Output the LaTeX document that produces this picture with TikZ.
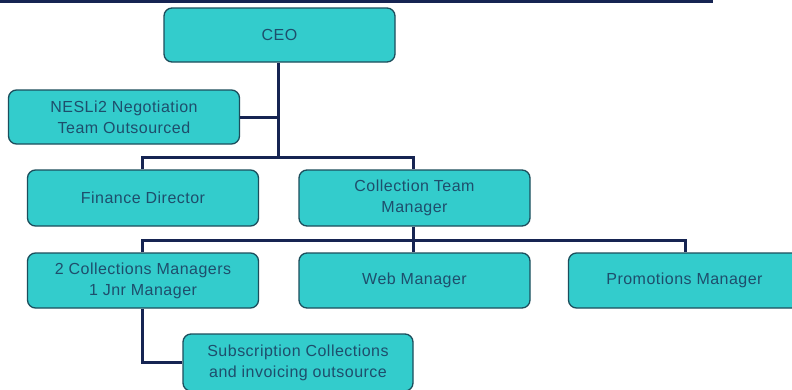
\documentclass[tikz,border=0pt]{standalone}
\usepackage{fontspec}
\setmainfont[LetterSpace=3]{Liberation Sans}
\definecolor{boxfill}{RGB}{51,204,204}
\definecolor{boxborder}{RGB}{28,78,92}
\definecolor{textcol}{RGB}{30,78,108}
\definecolor{linecol}{RGB}{22,36,82}
\begin{document}
\begin{tikzpicture}[x=1pt,y=-1pt,
  box/.style={draw=boxborder, fill=boxfill, rounded corners=8pt, line width=1.3pt,
    minimum width=231pt, minimum height=55pt, align=center,
    font=\fontsize{16}{21}\selectfont, text=textcol, inner sep=0pt},
  conn/.style={draw=linecol, line width=3pt}]
\useasboundingbox (0,0) rectangle (792,389);
\clip (0,0) rectangle (792,389);
\fill[white] (0,0) rectangle (792,389);
\draw[linecol, line width=3.5pt] (0,1) -- (713,1);
\coordinate (bus1) at (278,157);
\coordinate (bus2) at (413,240);
\node[box, minimum height=54pt] (ceo) at (279.5,35) {CEO};
\node[box, minimum height=54pt] (nesli) at (124,117) {NESLi2 Negotiation\\Team Outsourced};
\node[box, minimum height=56pt] (fin) at (143,198) {Finance Director};
\node[box, minimum height=56pt] (ctm) at (414.5,198) {Collection Team\\Manager};
\node[box] (coll) at (143,280.5) {2 Collections Managers\\1 Jnr Manager};
\node[box] (web) at (414.5,280.5) {Web Manager};
\node[box, minimum width=232pt] (promo) at (684.5,280.5) {Promotions Manager};
\node[box, minimum width=230pt, minimum height=57pt] (sub) at (298,362.5) {Subscription Collections\\and invoicing outsource};
% CEO level
\draw[conn] (ceo.south -| bus1) -- (bus1);
\draw[conn] (nesli.east) -- (nesli.east -| bus1);
\draw[conn] (fin.north -| 142,0) -- (142,157) -- (413,157) -- (ctm.north -| 413,0);
% Collection Team Manager level
\draw[conn] (ctm.south -| bus2) -- (bus2);
\draw[conn] (coll.north -| 142,0) -- (142,240) -- (685,240) -- (promo.north -| 685,0);
\draw[conn] (bus2) -- (web.north -| bus2);
% Sub
\draw[conn] (coll.south -| 142,0) -- (142,362) -- (sub.west |- 0,362);
\end{tikzpicture}
\end{document}
